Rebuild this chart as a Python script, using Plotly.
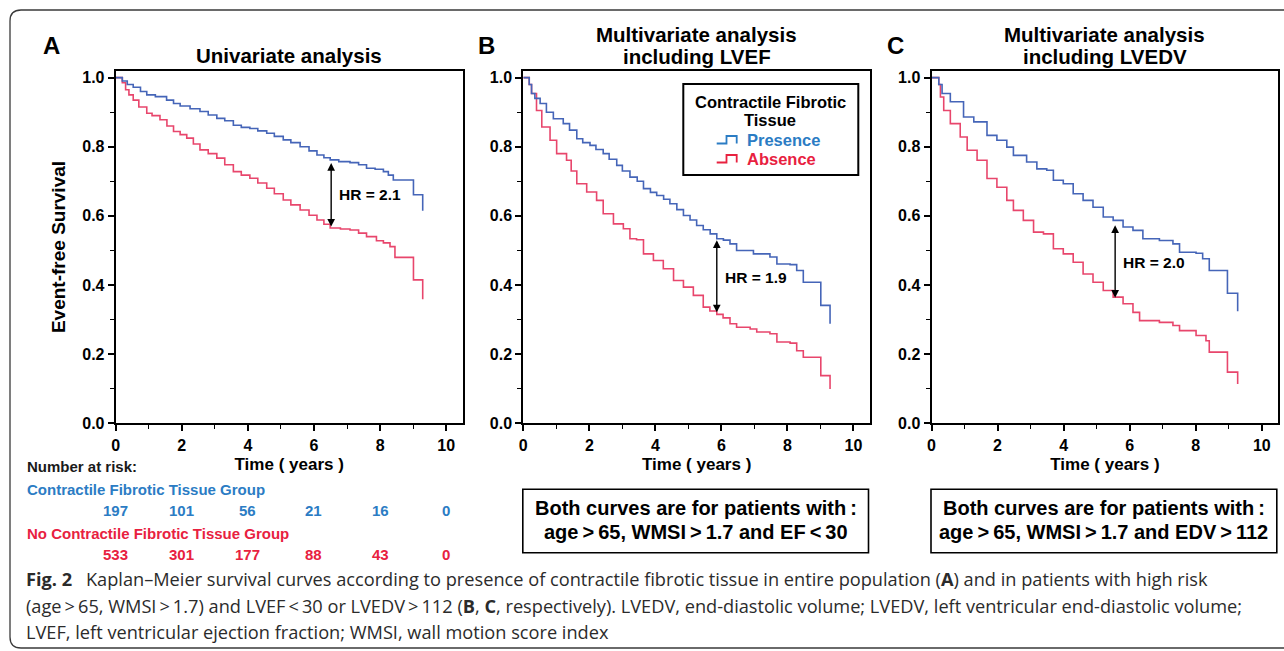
import plotly.graph_objects as go

W, H = 1284, 651

# ---------------- data ----------------
# Panel A: univariate analysis
A_pres_t = [0, 0.2, 0.35, 0.53, 0.75, 0.94, 1.2, 1.54, 1.75, 1.95, 2.25, 2.55, 2.8, 3.06, 3.3, 3.56, 3.8, 4.06, 4.3,
            4.57, 4.8, 5.07, 5.3, 5.58, 5.85, 6.09, 6.3, 6.49, 6.75, 7.09, 7.35, 7.59, 7.85, 8.1, 8.25, 8.4, 9.01, 9.29]
A_pres_s = [1.0, 0.99, 0.98, 0.972, 0.96, 0.95, 0.945, 0.935, 0.925, 0.918, 0.91, 0.902, 0.892, 0.882, 0.875, 0.862,
            0.856, 0.853, 0.846, 0.839, 0.83, 0.82, 0.812, 0.80, 0.788, 0.776, 0.768, 0.762, 0.757, 0.754, 0.748, 0.738,
            0.735, 0.728, 0.718, 0.704, 0.661, 0.615]
A_abs_t = [0, 0.2, 0.3, 0.4, 0.53, 0.7, 0.94, 1.1, 1.34, 1.55, 1.75, 1.95, 2.15, 2.35, 2.55, 2.8, 3.06, 3.3, 3.56, 3.8,
           4.06, 4.3, 4.57, 4.8, 5.07, 5.3, 5.58, 5.85, 6.09, 6.3, 6.49, 6.8, 7.09, 7.35, 7.59, 7.89, 8.1, 8.3, 8.45,
           9.01, 9.29]
A_abs_s = [1.0, 0.985, 0.965, 0.95, 0.935, 0.915, 0.897, 0.89, 0.878, 0.86, 0.844, 0.835, 0.825, 0.808, 0.791, 0.78,
           0.767, 0.748, 0.728, 0.718, 0.709, 0.695, 0.68, 0.664, 0.646, 0.632, 0.617, 0.602, 0.588, 0.576, 0.565,
           0.562, 0.559, 0.55, 0.54, 0.528, 0.522, 0.511, 0.48, 0.415, 0.359]

# Panel B: multivariate including LVEF
B_pres_t = [0, 0.18, 0.25, 0.35, 0.51, 0.7, 0.91, 1.21, 1.4, 1.62, 1.8, 2.02, 2.2, 2.42, 2.6, 2.83, 3.0, 3.23, 3.45,
            3.64, 3.85, 4.04, 4.25, 4.44, 4.65, 4.85, 5.05, 5.25, 5.45, 5.66, 5.86, 6.06, 6.26, 6.46, 6.97, 7.47, 7.68,
            8.08, 8.28, 8.48, 9.01, 9.29]
B_pres_s = [1.0, 0.98, 0.954, 0.94, 0.925, 0.9, 0.881, 0.867, 0.848, 0.823, 0.812, 0.804, 0.792, 0.78, 0.764, 0.746,
            0.73, 0.712, 0.7, 0.679, 0.668, 0.659, 0.648, 0.635, 0.618, 0.601, 0.588, 0.572, 0.56, 0.548, 0.534, 0.53,
            0.519, 0.5, 0.49, 0.481, 0.461, 0.459, 0.442, 0.408, 0.341, 0.288]
B_abs_t = [0, 0.18, 0.25, 0.4, 0.56, 0.81, 1.01, 1.31, 1.45, 1.62, 1.92, 2.22, 2.42, 2.73, 3.03, 3.23, 3.43, 3.64,
           3.94, 4.24, 4.55, 4.85, 5.15, 5.45, 5.65, 5.86, 6.05, 6.26, 6.46, 6.87, 7.07, 7.47, 7.68, 8.08, 8.28, 8.48,
           9.01, 9.29]
B_abs_s = [1.0, 0.98, 0.954, 0.905, 0.857, 0.819, 0.78, 0.761, 0.73, 0.693, 0.669, 0.645, 0.606, 0.577, 0.563, 0.534,
           0.531, 0.49, 0.471, 0.447, 0.413, 0.394, 0.37, 0.336, 0.325, 0.315, 0.305, 0.288, 0.278, 0.273, 0.264,
           0.259, 0.235, 0.232, 0.21, 0.191, 0.138, 0.099]

# Panel C: multivariate including LVEDV
C_pres_t = [0, 0.22, 0.32, 0.57, 0.97, 1.28, 1.68, 1.98, 2.28, 2.48, 2.88, 3.19, 3.49, 3.69, 3.99, 4.29, 4.59, 4.89,
            5.2, 5.5, 5.8, 6.1, 6.4, 6.9, 7.31, 7.51, 8.01, 8.21, 8.41, 8.96, 9.27]
C_pres_s = [1.0, 0.98, 0.954, 0.93, 0.886, 0.872, 0.833, 0.819, 0.799, 0.775, 0.756, 0.736, 0.732, 0.703, 0.693,
            0.664, 0.645, 0.625, 0.597, 0.587, 0.568, 0.558, 0.534, 0.529, 0.519, 0.495, 0.492, 0.476, 0.442, 0.376,
            0.324]
C_abs_t = [0, 0.22, 0.27, 0.37, 0.57, 0.87, 1.08, 1.38, 1.68, 1.98, 2.28, 2.48, 2.78, 3.09, 3.39, 3.69, 3.99, 4.29,
           4.59, 4.89, 5.2, 5.5, 5.8, 6.1, 6.3, 6.9, 7.31, 7.51, 8.01, 8.31, 8.41, 8.96, 9.27]
C_abs_s = [1.0, 0.98, 0.944, 0.905, 0.867, 0.828, 0.79, 0.761, 0.708, 0.683, 0.645, 0.616, 0.587, 0.553, 0.548, 0.505,
           0.49, 0.466, 0.432, 0.408, 0.384, 0.365, 0.346, 0.321, 0.297, 0.292, 0.283, 0.268, 0.254, 0.239, 0.206,
           0.148, 0.114]

# Hazard ratios and the (time, upper, lower) of the arrows
hr_labels = ["HR = 2.1", "HR = 1.9", "HR = 2.0"]
hr_arrow_t = [6.52, 5.86, 5.56]
hr_arrow_hi = [0.757, 0.534, 0.577]
hr_arrow_lo = [0.569, 0.321, 0.363]
hr_text_t = [6.69, 6.04, 5.73]
hr_text_s = [0.661, 0.421, 0.466]

# Number at risk (panel A)
risk_times = [0, 2, 4, 6, 8, 10]
risk_pres = [197, 101, 56, 21, 16, 0]
risk_abs = [533, 301, 177, 88, 43, 0]

x_tickvals = [0, 2, 4, 6, 8, 10]
y_tickvals = [0.0, 0.2, 0.4, 0.6, 0.8, 1.0]

panel_letters = ["A", "B", "C"]
panel_titles = ["Univariate analysis",
                "Multivariate analysis<br>including LVEF",
                "Multivariate analysis<br>including LVEDV"]
condition_lines = [None,
                   ["Both curves are for patients with\u2009:",
                    "age\u2009&gt;\u200965, WMSI\u2009&gt;\u20091.7 and EF\u2009&lt;\u200930"],
                   ["Both curves are for patients with\u2009:",
                    "age\u2009&gt;\u200965, WMSI\u2009&gt;\u20091.7 and EDV\u2009&gt;\u2009112"]]

# ---------------- styling ----------------
BLUE_LINE = "#4565b8"
RED_LINE = "#e8466c"
BLUE_TXT = "#2b7cc4"
RED_TXT = "#e8213f"
FONT = "Liberation Sans, Arial, sans-serif"
CAP_FONT = "Open Sans, Noto Sans, sans-serif"


def X(p):
    return p / W


def Y(p):
    return 1 - p / H


# pixel boxes of the three plot areas (left, right)
x_px = [(115.7, 462.7), (523.3, 870.0), (931.5, 1278.3)]
y_top, y_bot = 70.7, 423.3

fig = go.Figure()

series = [
    (A_pres_t, A_pres_s, A_abs_t, A_abs_s),
    (B_pres_t, B_pres_s, B_abs_t, B_abs_s),
    (C_pres_t, C_pres_s, C_abs_t, C_abs_s),
]

annotations = []
shapes = []

for i, (pt, ps, at, as_) in enumerate(series):
    xa = "x" if i == 0 else f"x{i+1}"
    ya = "y" if i == 0 else f"y{i+1}"
    fig.add_trace(go.Scatter(x=at, y=as_, mode="lines", line=dict(color=RED_LINE, width=1.6, shape="hv"),
                             name="Absence", showlegend=False, xaxis=xa, yaxis=ya))
    fig.add_trace(go.Scatter(x=pt, y=ps, mode="lines", line=dict(color=BLUE_LINE, width=1.6, shape="hv"),
                             name="Presence", showlegend=False, xaxis=xa, yaxis=ya))

    axis_line = dict(showline=True, linecolor="black", linewidth=2, mirror=True,
                     ticks="outside", ticklen=6, tickwidth=1.5, tickcolor="black",
                     showgrid=False, zeroline=False,
                     tickfont=dict(family=FONT, size=16, color="black", weight="bold"))
    xl, xr = x_px[i]
    xkey = "xaxis" if i == 0 else f"xaxis{i+1}"
    ykey = "yaxis" if i == 0 else f"yaxis{i+1}"
    fig.layout[xkey] = dict(domain=[X(xl), X(xr)], range=[0, 10.5], anchor=ya, tickvals=x_tickvals,
                            minor=dict(ticks="outside", dtick=1, tick0=0, ticklen=4, tickwidth=1.2, tickcolor="black"),
                            title=dict(text="Time ( years )", standoff=6,
                                       font=dict(family=FONT, size=17, color="black", weight="bold")),
                            **axis_line)
    ydict = dict(domain=[Y(y_bot), Y(y_top)], range=[0, 1.02], anchor=xa, tickvals=y_tickvals, tickformat=".1f",
                 minor=dict(ticks="outside", dtick=0.1, tick0=0, ticklen=4, tickwidth=1.2, tickcolor="black"),
                 **axis_line)
    if i == 0:
        ydict["title"] = dict(text="Event-free Survival", standoff=12,
                              font=dict(family=FONT, size=19, color="black", weight="bold"))
    fig.layout[ykey] = ydict

    # panel letter and title
    cx = (xl + xr) / 2
    letter_x = [51.7, 486.7, 895.0][i]
    annotations.append(dict(text=panel_letters[i], x=X(letter_x), y=Y(45), xref="paper", yref="paper",
                            showarrow=False, xanchor="center", yanchor="middle",
                            font=dict(family=FONT, size=24, color="black", weight="bold")))
    title_lines = panel_titles[i].split("<br>")
    title_ys = [55] if i == 0 else [35, 56]
    for tl, ty in zip(title_lines, title_ys):
        annotations.append(dict(text=tl, x=X(cx), y=Y(ty), xref="paper", yref="paper",
                                showarrow=False, xanchor="center", yanchor="middle",
                                font=dict(family=FONT, size=20.5, color="black", weight="bold")))

    # HR arrow and label
    annotations.append(dict(x=hr_arrow_t[i], y=hr_arrow_lo[i], ax=hr_arrow_t[i], ay=hr_arrow_hi[i],
                            xref=xa, yref=ya, axref=xa, ayref=ya, text="", showarrow=True,
                            arrowhead=2, startarrowhead=2, arrowside="end+start", arrowsize=1.1,
                            arrowwidth=1.4, arrowcolor="black", standoff=0, startstandoff=0))
    annotations.append(dict(text=hr_labels[i], x=hr_text_t[i], y=hr_text_s[i], xref=xa, yref=ya,
                            showarrow=False, xanchor="left", yanchor="middle",
                            font=dict(family=FONT, size=15.5, color="black", weight="bold")))

    # condition boxes
    if condition_lines[i]:
        shapes.append(dict(type="rect", xref="paper", yref="paper",
                           x0=X(xl - 0.5), x1=X(xr - 1.5), y0=Y(552.7), y1=Y(489.3),
                           line=dict(color="black", width=1.6), fillcolor="rgba(0,0,0,0)"))
        for ln, ly in zip(condition_lines[i], [507.5, 531.5]):
            annotations.append(dict(text=ln, x=X((xl + xr - 2) / 2), y=Y(ly), xref="paper",
                                    yref="paper", showarrow=False, xanchor="center", yanchor="middle",
                                    font=dict(family=FONT, size=20, color="black", weight="bold")))

# Legend drawn in panel B
shapes.append(dict(type="rect", xref="paper", yref="paper", x0=X(683.3), x1=X(858.3), y0=Y(175), y1=Y(84),
                   line=dict(color="black", width=2), fillcolor="white", layer="above"))
for tl, ty in zip(["Contractile Fibrotic", "Tissue"], [102, 120]):
    annotations.append(dict(text=tl, x=X(770), y=Y(ty), xref="paper", yref="paper",
                            showarrow=False, xanchor="center", yanchor="middle",
                            font=dict(family=FONT, size=16.5, color="black", weight="bold")))
for label, col, yy in [("Presence", BLUE_TXT, 139.5), ("Absence", RED_TXT, 158.5)]:
    annotations.append(dict(text=label, x=X(745), y=Y(yy), xref="paper", yref="paper", showarrow=False,
                            xanchor="left", yanchor="middle",
                            font=dict(family=FONT, size=16.5, color=col, weight="bold")))
    yb, yt = yy + 4, yy - 3.5
    path = (f"M {X(716.7)},{Y(yb)} L {X(726.5)},{Y(yb)} L {X(726.5)},{Y(yt)} "
            f"L {X(736.7)},{Y(yt)} L {X(736.7)},{Y(yb)}")
    shapes.append(dict(type="path", xref="paper", yref="paper", path=path,
                       line=dict(color=col, width=1.8), layer="above"))

# Number at risk table
annotations.append(dict(text="Number at risk:", x=X(25), y=Y(466), xref="paper", yref="paper", showarrow=False,
                        xanchor="left", yanchor="middle",
                        font=dict(family=FONT, size=15, color="#1a1a1a", weight="bold")))
annotations.append(dict(text="Contractile Fibrotic Tissue Group", x=X(25), y=Y(489.5), xref="paper", yref="paper",
                        showarrow=False, xanchor="left", yanchor="middle",
                        font=dict(family=FONT, size=15, color=BLUE_TXT, weight="bold")))
annotations.append(dict(text="No Contractile Fibrotic Tissue Group", x=X(25), y=Y(533.5), xref="paper",
                        yref="paper", showarrow=False, xanchor="left", yanchor="middle",
                        font=dict(family=FONT, size=15, color=RED_TXT, weight="bold")))
for t, n1, n2 in zip(risk_times, risk_pres, risk_abs):
    annotations.append(dict(text=str(n1), x=t, y=Y(510.5), xref="x", yref="paper", showarrow=False,
                            xanchor="center", yanchor="middle",
                            font=dict(family=FONT, size=15, color=BLUE_TXT, weight="bold")))
    annotations.append(dict(text=str(n2), x=t, y=Y(554.5), xref="x", yref="paper", showarrow=False,
                            xanchor="center", yanchor="middle",
                            font=dict(family=FONT, size=15, color=RED_TXT, weight="bold")))

# Caption
caption_lines = [
    "<b>Fig. 2</b>\u2002 Kaplan\u2013Meier survival curves according to presence of contractile fibrotic tissue in entire "
    "population (<b>A</b>) and in patients with high risk",
    "(age\u2009&gt;\u200965, WMSI\u2009&gt;\u20091.7) and LVEF\u2009&lt;\u200930 or LVEDV\u2009&gt;\u2009112 (<b>B</b>, <b>C</b>, "
    "respectively). LVEDV, end-diastolic volume; LVEDV, left ventricular end-diastolic volume;",
    "LVEF, left ventricular ejection fraction; WMSI, wall motion score index",
]
for txt, yy in zip(caption_lines, [579, 606, 632]):
    annotations.append(dict(text=txt, x=X(24), y=Y(yy), xref="paper", yref="paper", showarrow=False,
                            xanchor="left", yanchor="middle",
                            font=dict(family=CAP_FONT, size=18.2, color="#2b2b2b")))

# Rounded outer frame (extends past the right edge)
r = 11
frame = (f"M {X(1300)},{Y(10)} L {X(10 + r)},{Y(10)} Q {X(10)},{Y(10)} {X(10)},{Y(10 + r)} "
         f"L {X(10)},{Y(648 - r)} Q {X(10)},{Y(648)} {X(10 + r)},{Y(648)} L {X(1300)},{Y(648)}")
shapes.append(dict(type="path", xref="paper", yref="paper", path=frame,
                   line=dict(color="#3a3a3a", width=1.3), layer="below"))

fig.update_layout(
    width=W, height=H,
    margin=dict(l=0, r=0, t=0, b=0, autoexpand=False),
    paper_bgcolor="white", plot_bgcolor="white",
    showlegend=False,
    annotations=annotations,
    shapes=shapes,
    font=dict(family=FONT, color="black"),
)

page_css = ("document.documentElement.style.margin='0';document.documentElement.style.padding='0';"
            "document.documentElement.style.overflow='hidden';document.body.style.margin='0';"
            "document.body.style.padding='0';document.body.style.overflow='hidden';"
            "document.body.style.height='651px';")
fig.write_html("out.html", config={"displayModeBar": False}, post_script=page_css)
